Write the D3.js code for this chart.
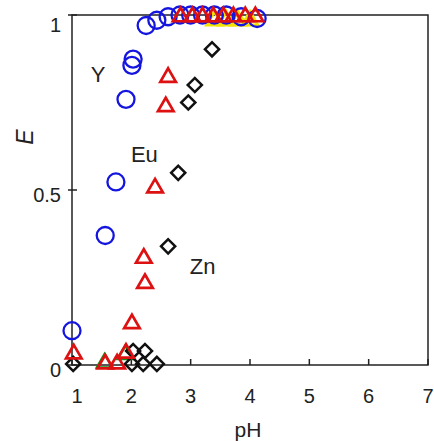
<!DOCTYPE html>
<head>
  <meta charset="utf-8">
  <script src="https://d3js.org/d3.v7.min.js"></script>
  <style>
    body {
      font-family: Arial, "Liberation Sans", sans-serif;
      margin: 0;
      background: #fff;
    }
  </style>
</head>
<body>
<div id="vis"></div>
<script>
// data: [pH, E]
const yData = [
  [1.0, 0.098], [1.56, 0.37], [1.74, 0.523], [1.91, 0.759], [2.01, 0.856], [2.03, 0.874],
  [2.25, 0.97], [2.43, 0.985], [2.62, 0.995], [2.82, 1.0], [3.0, 1.0], [3.2, 1.0],
  [3.4, 1.0], [3.6, 1.0], [3.85, 0.995], [4.12, 0.99]
];
const euData = [
  [1.03, 0.032], [1.56, 0.003], [1.76, 0.003], [1.91, 0.034], [2.01, 0.118], [2.23, 0.233],
  [2.21, 0.305], [2.40, 0.506], [2.58, 0.738], [2.62, 0.822],
  [2.83, 0.995], [3.03, 0.995], [3.2, 0.995], [3.38, 0.995], [3.55, 0.995], [3.72, 0.995],
  [3.92, 0.995], [4.09, 0.995]
];
const znData = [
  [1.02, 0.003], [2.01, 0.003], [2.03, 0.04], [2.23, 0.04], [2.2, 0.003], [2.43, 0.003],
  [2.62, 0.339], [2.79, 0.549], [2.96, 0.75], [3.07, 0.80], [3.36, 0.902]
];
// partly hidden series behind the others
const yellowData = [[3.4, 0.99], [3.6, 0.99], [3.8, 0.99], [4.0, 0.99]];
const greenData = [[1.55, 0.006], [1.9, 0.03]];

const xTicks = [1, 2, 3, 4, 5, 6, 7];
const yTicks = [0, 0.5, 1];
const labels = [
  { text: 'Y', pH: 1.44, e: 0.81 },
  { text: 'Eu', pH: 2.22, e: 0.58 },
  { text: 'Zn', pH: 3.2, e: 0.26 }
];

const width = 434, height = 441;
const x = d3.scaleLinear().domain([1, 7]).range([72, 428]);
const y = d3.scaleLinear().domain([0, 1]).range([365, 15]);

const svg = d3.select('#vis').append('svg')
  .attr('width', width)
  .attr('height', height);

// frame
svg.append('rect')
  .attr('x', x(1)).attr('y', y(1))
  .attr('width', x(7) - x(1)).attr('height', y(0) - y(1))
  .attr('fill', 'none').attr('stroke', '#222').attr('stroke-width', 1.5);

// x ticks (inward)
svg.selectAll('.xt').data(xTicks).enter().append('line')
  .attr('x1', d => x(d)).attr('x2', d => x(d))
  .attr('y1', y(0)).attr('y2', y(0) - 6)
  .attr('stroke', '#222').attr('stroke-width', 1.5);
svg.selectAll('.xl').data(xTicks).enter().append('text')
  .attr('x', d => d === 1 ? x(d) + 5 : x(d))
  .attr('y', 403)
  .attr('text-anchor', 'middle')
  .style('font-size', '20px')
  .attr('fill', '#222')
  .text(d => d);

// y ticks
svg.selectAll('.yt').data(yTicks).enter().append('line')
  .attr('x1', x(1) - 4).attr('x2', x(1) + 5)
  .attr('y1', d => y(d)).attr('y2', d => y(d))
  .attr('stroke', '#222').attr('stroke-width', 1.5);
svg.selectAll('.yl').data(yTicks).enter().append('text')
  .attr('x', 61)
  .attr('y', d => y(d) + (d === 1 ? 17 : 12))
  .attr('text-anchor', 'end')
  .style('font-size', '20px')
  .attr('fill', '#222')
  .text(d => d);

// axis titles
svg.append('text')
  .attr('transform', 'translate(33,137) rotate(-90)')
  .attr('text-anchor', 'middle')
  .style('font-size', '23px')
  .style('font-style', 'italic')
  .attr('fill', '#222')
  .text('E');
svg.append('text')
  .attr('x', 248).attr('y', 437)
  .attr('text-anchor', 'middle')
  .style('font-size', '21px')
  .attr('fill', '#222')
  .text('pH');

// series labels
svg.selectAll('.lab').data(labels).enter().append('text')
  .attr('x', d => x(d.pH)).attr('y', d => y(d.e))
  .attr('text-anchor', 'middle')
  .style('font-size', '22px')
  .attr('fill', '#222')
  .text(d => d.text);

const tri = d3.symbol().type(d3.symbolTriangle).size(105);

// hidden series
svg.selectAll('.yel').data(yellowData).enter().append('path')
  .attr('d', tri)
  .attr('transform', d => `translate(${x(d[0])},${y(d[1]) + 2})`)
  .attr('fill', 'none').attr('stroke', '#f2e200').attr('stroke-width', 3);
svg.selectAll('.grn').data(greenData).enter().append('path')
  .attr('d', tri)
  .attr('transform', d => `translate(${x(d[0])},${y(d[1])})`)
  .attr('fill', 'none').attr('stroke', '#1a8a1a').attr('stroke-width', 2.5);

// Y: blue circles
svg.selectAll('.yc').data(yData).enter().append('circle')
  .attr('cx', d => x(d[0])).attr('cy', d => y(d[1]))
  .attr('r', 8.5)
  .attr('fill', 'none').attr('stroke', '#1515e0').attr('stroke-width', 2.3);

// Zn: black diamonds
svg.selectAll('.zn').data(znData).enter().append('rect')
  .attr('x', -5).attr('y', -5).attr('width', 10).attr('height', 10)
  .attr('transform', d => `translate(${x(d[0])},${y(d[1])}) rotate(45)`)
  .attr('fill', 'none').attr('stroke', '#111').attr('stroke-width', 2.5);

// Eu: red triangles
svg.selectAll('.eu').data(euData).enter().append('path')
  .attr('d', tri)
  .attr('transform', d => `translate(${x(d[0])},${y(d[1])})`)
  .attr('fill', 'none').attr('stroke', '#dd1111').attr('stroke-width', 2.7);
</script>
</body>
